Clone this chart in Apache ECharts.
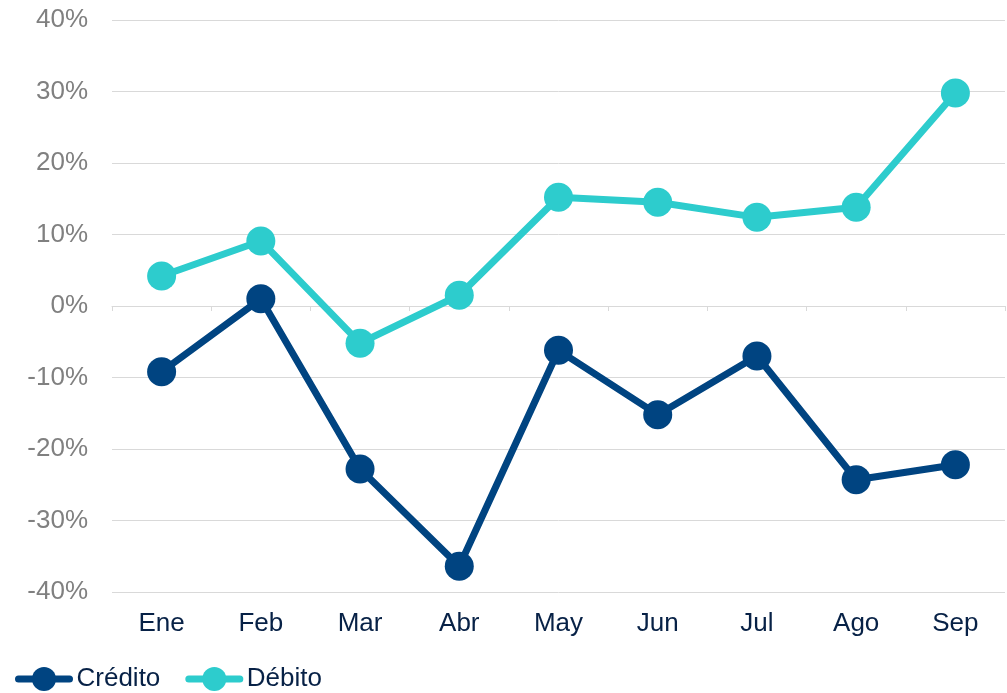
<!DOCTYPE html>
<html>
<head>
<meta charset="utf-8">
<script src="https://cdn.jsdelivr.net/npm/echarts@6/dist/echarts.min.js"></script>
<style>html,body{margin:0;padding:0;background:#fff}#c{width:1007px;height:693px}</style>
</head>
<body>
<div id="c"></div>
<script>
const categories = ['Ene','Feb','Mar','Abr','May','Jun','Jul','Ago','Sep'];
const credito = [-9.2, 1.0, -22.8, -36.4, -6.2, -15.2, -7.0, -24.3, -22.2];
const debito = [4.2, 9.1, -5.2, 1.5, 15.2, 14.5, 12.4, 13.8, 29.8];
const seriesNames = ['Crédito', 'Débito'];

const chart = echarts.init(document.getElementById('c'));
const font = 'Liberation Sans, Arial, sans-serif';
chart.setOption({
  animation: false,
  grid: { left: 112, right: 2, top: 20, bottom: 101, containLabel: false },
  legend: {
    left: 10, top: 661,
    itemWidth: 51, itemHeight: 30, itemGap: 25,
    lineStyle: { width: 7, cap: 'round' },
    textStyle: { fontFamily: font, fontSize: 26, color: '#072146', padding: [0,0,0,2] },
    data: seriesNames
  },
  xAxis: [{
    type: 'category', data: categories, position: 'bottom',
    axisLine: { show: false, onZero: false }, axisTick: { show: false },
    axisLabel: { fontFamily: font, fontSize: 26, color: '#072146', margin: 19 }
  }, {
    type: 'category', data: categories, position: 'bottom',
    axisLine: { show: true, onZero: true, lineStyle: { color: '#d9d9d9', width: 1 } },
    axisTick: { show: true, length: 5, lineStyle: { color: '#d9d9d9' } },
    axisLabel: { show: false }
  }],
  yAxis: {
    type: 'value', min: -40, max: 40, interval: 10,
    axisLine: { show: false }, axisTick: { show: false },
    splitLine: { lineStyle: { color: '#d9d9d9', width: 1 } },
    axisLabel: { fontFamily: font, fontSize: 26, color: '#808080', margin: 24, verticalAlign: 'middle', lineHeight: 26, padding: [5,0,0,0], formatter: '{value}%' }
  },
  series: [{
    name: seriesNames[0], type: 'line', data: credito,
    symbol: 'circle', symbolSize: 29,
    lineStyle: { color: '#004481', width: 7 },
    itemStyle: { color: '#004481' }
  }, {
    name: seriesNames[1], type: 'line', data: debito,
    symbol: 'circle', symbolSize: 29,
    lineStyle: { color: '#2dcccd', width: 7 },
    itemStyle: { color: '#2dcccd' }
  }]
});
</script>
</body>
</html>
